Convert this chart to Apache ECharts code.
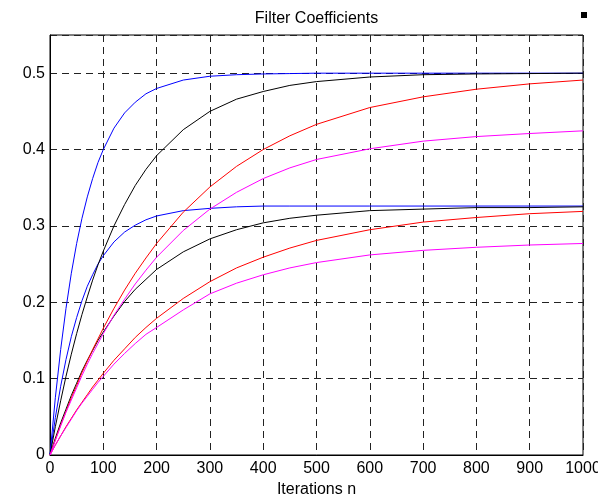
<!DOCTYPE html>
<html>
<head>
<meta charset="utf-8">
<style>
html,body{margin:0;padding:0;background:#fff;}
#chart{width:598px;height:498px;}
</style>
<script src="https://cdn.jsdelivr.net/npm/echarts@6/dist/echarts.min.js"></script>
</head>
<body>
<div id="chart"></div>
<script>
const iterations = [0,10,20,30,40,50,60,70,80,90,100,120,140,160,180,200,250,300,350,400,450,500,600,700,800,900,1000];

const blueUpper = [0,0.075,0.138,0.192,0.238,0.277,0.310,0.338,0.362,0.383,0.400,0.428,0.448,0.462,0.473,0.480,0.491,0.496,0.498,0.499,0.4995,0.500,0.500,0.500,0.500,0.500,0.500];
const blueLower = [0,0.049,0.090,0.125,0.155,0.180,0.202,0.221,0.236,0.250,0.261,0.279,0.292,0.301,0.308,0.313,0.320,0.323,0.325,0.326,0.326,0.326,0.326,0.326,0.326,0.326,0.326];
const blackUpper = [0,0.037,0.071,0.103,0.132,0.159,0.184,0.207,0.229,0.249,0.267,0.300,0.328,0.353,0.374,0.392,0.426,0.450,0.466,0.476,0.484,0.489,0.495,0.498,0.499,0.4995,0.500];
const blackLower = [0,0.022,0.042,0.060,0.078,0.094,0.110,0.124,0.137,0.150,0.161,0.182,0.201,0.217,0.230,0.243,0.266,0.283,0.295,0.304,0.310,0.314,0.320,0.322,0.324,0.324,0.325];
const redUpper = [0,0.020,0.039,0.057,0.075,0.091,0.108,0.123,0.138,0.152,0.166,0.192,0.216,0.238,0.258,0.277,0.318,0.351,0.378,0.400,0.418,0.433,0.455,0.469,0.479,0.486,0.491];
const magentaUpper = [0,0.019,0.038,0.056,0.072,0.088,0.104,0.119,0.133,0.146,0.159,0.183,0.204,0.224,0.242,0.259,0.294,0.322,0.344,0.362,0.376,0.387,0.401,0.411,0.417,0.421,0.4245];
const redLower = [0,0.013,0.025,0.037,0.048,0.059,0.069,0.079,0.089,0.098,0.107,0.124,0.139,0.154,0.167,0.179,0.205,0.227,0.245,0.259,0.271,0.281,0.295,0.305,0.311,0.316,0.319];
const magentaLower = [0,0.013,0.025,0.036,0.047,0.058,0.068,0.077,0.086,0.095,0.103,0.119,0.133,0.146,0.158,0.167,0.190,0.211,0.225,0.236,0.245,0.252,0.262,0.268,0.272,0.275,0.277];

const titleText = 'Filter Coefficients';
const xName = 'Iterations n';

const seriesDefs = [
  {name:'w1a', data: blueUpper, color:'#0000ff'},
  {name:'w1b', data: blueLower, color:'#0000ff'},
  {name:'w2a', data: blackUpper, color:'#000000'},
  {name:'w2b', data: blackLower, color:'#000000'},
  {name:'w3a', data: redUpper, color:'#ff0000'},
  {name:'w3b', data: redLower, color:'#ff0000'},
  {name:'w4a', data: magentaUpper, color:'#ff00ff'},
  {name:'w4b', data: magentaLower, color:'#ff00ff'}
];

const FONT = 'Liberation Sans, Arial, Helvetica, sans-serif';
const chart = echarts.init(document.getElementById('chart'), null, {renderer:'canvas'});

const dashed = {color:'#222', width:1, type:[7,5]};

chart.setOption({
  animation:false,
  backgroundColor:'#fff',
  textStyle:{fontFamily:FONT},
  grid:{left:50, right:15, top:35, bottom:43, containLabel:false, outerBoundsMode:'none',
    show:true, borderColor:'#000', borderWidth:1, backgroundColor:'transparent'},
  xAxis:{
    type:'value', min:0, max:1000, interval:100,
    name:xName, nameLocation:'middle', nameGap:26,
    nameTextStyle:{fontSize:16, color:'#000', fontFamily:FONT},
    axisLine:{show:true, lineStyle:{color:'#000', width:1}},
    axisTick:{show:false},
    axisLabel:{fontSize:16, color:'#000', margin:6, fontFamily:FONT, hideOverlap:false,
      formatter:function(v){ return String(Math.round(v)); }},
    splitLine:{show:true, lineStyle:dashed}
  },
  yAxis:{
    type:'value', min:0, max:0.55, interval:0.1,
    axisLine:{show:true, lineStyle:{color:'#000', width:1}},
    axisTick:{show:false},
    axisLabel:{fontSize:16, color:'#000', margin:5, fontFamily:FONT, showMaxLabel:false,
      formatter:function(v){ return v > 0.501 ? '' : String(Math.round(v*10)/10); }},
    splitLine:{show:true, lineStyle:dashed}
  },
  graphic:[
    {type:'text', x:316.5, y:19, style:{text:titleText, fontSize:16, fill:'#000', font:'16px ' + FONT, textAlign:'center', textVerticalAlign:'middle'}},
    {type:'rect', shape:{x:581, y:12, width:6, height:6}, style:{fill:'#000'}}
  ],
  series: seriesDefs.map(s => ({
    type:'line', name:s.name,
    data: iterations.map((n,i) => [n, s.data[i]]),
    showSymbol:false, symbol:'none', smooth:false,
    lineStyle:{color:s.color, width:1},
    itemStyle:{color:s.color},
    z:3
  }))
});
</script>
</body>
</html>
